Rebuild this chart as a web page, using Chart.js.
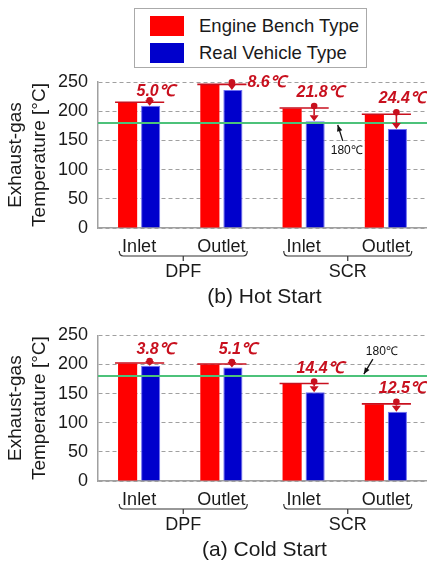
<!DOCTYPE html>
<html><head><meta charset="utf-8">
<script src="https://cdn.jsdelivr.net/npm/chart.js@4"></script>
<style>
html,body{margin:0;padding:0;background:#fff;width:427px;height:562px;overflow:hidden;font-family:"Liberation Sans",Arial,sans-serif;}
#legend{position:absolute;left:134px;top:8px;width:233px;height:60px;border:1px solid #aaa;box-sizing:border-box;}
.item{position:absolute;left:15px;width:215px;height:20px;font-size:18.5px;color:#1a1a1a;}
.sw{position:absolute;left:0;top:0;width:34px;height:20px;}
.lbl{position:absolute;left:49px;top:-2px;white-space:nowrap;line-height:24px;}
canvas{position:absolute;left:0;}
</style></head><body>
<div id="legend"></div>
<canvas id="hot" width="427" height="240" style="top:70px"></canvas>
<canvas id="cold" width="427" height="242" style="top:320px"></canvas>
<script>
// ---- data ----
const categories = ['Inlet', 'Outlet', 'Inlet', 'Outlet'];
const groups = ['DPF', 'SCR'];
const seriesNames = ['Engine Bench Type', 'Real Vehicle Type'];
const hotBench = [214.5, 245.0, 204.5, 194.0];
const hotReal = [209.5, 236.4, 182.7, 169.6];
const hotDiff = ['5.0', '8.6', '21.8', '24.4'];
const coldBench = [201.5, 200.0, 166.5, 131.5];
const coldReal = [197.7, 194.9, 152.1, 119.0];
const coldDiff = ['3.8', '5.1', '14.4', '12.5'];
const yTicks = [0, 50, 100, 150, 200, 250];
const threshold = 180;
const thresholdLabel = '180\u2103';
const yTitle = ['Exhaust-gas', 'Temperature [\u00b0C]'];
const hotCaption = '(b) Hot Start';
const coldCaption = '(a) Cold Start';

// ---- styles ----
const RED = '#ff0000', BLUE = '#0000cc', ANN = '#c8101e', GREEN = '#4cc27a', AXIS = '#a0a0a0', TXT = '#1a1a1a';
const FONT = '"Liberation Sans", Arial, sans-serif';

// legend
const leg = document.getElementById('legend');
[RED, BLUE].forEach((c, i) => {
  const it = document.createElement('div');
  it.className = 'item'; it.style.top = (7 + i * 27) + 'px';
  it.innerHTML = '<div class="sw" style="background:' + c + '"></div><div class="lbl">' + seriesNames[i] + '</div>';
  leg.appendChild(it);
});

function annPlugin(diffs, place, thr, caption) {
  return {
    id: 'ann',
    afterDatasetsDraw(chart) {
      const ctx = chart.ctx, ca = chart.chartArea, ys = chart.scales.y;
      const m0 = chart.getDatasetMeta(0), m1 = chart.getDatasetMeta(1);
      const ty = ys.getPixelForValue(threshold);
      ctx.save();
      ctx.strokeStyle = GREEN; ctx.lineWidth = 2;
      ctx.beginPath(); ctx.moveTo(ca.left, ty); ctx.lineTo(ca.right, ty); ctx.stroke();
      // threshold label with arrow
      ctx.fillStyle = '#111'; ctx.strokeStyle = '#111'; ctx.lineWidth = 1.3;
      ctx.font = '12px ' + FONT; ctx.textAlign = 'center'; ctx.textBaseline = 'middle';
      const tx = thr.tx(chart), tyl = ty + thr.dy;
      ctx.fillText(thresholdLabel, tx, tyl);
      const ax0 = tx + thr.a0[0], ay0 = tyl + thr.a0[1], ax1 = tx + thr.a1[0], ay1 = ty + thr.a1[1];
      ctx.beginPath(); ctx.moveTo(ax0, ay0); ctx.lineTo(ax1, ay1); ctx.stroke();
      const ang = Math.atan2(ay1 - ay0, ax1 - ax0);
      ctx.beginPath(); ctx.moveTo(ax1, ay1);
      ctx.lineTo(ax1 - 7 * Math.cos(ang - 0.4), ay1 - 7 * Math.sin(ang - 0.4));
      ctx.lineTo(ax1 - 7 * Math.cos(ang + 0.4), ay1 - 7 * Math.sin(ang + 0.4));
      ctx.closePath(); ctx.fill();
      // diff annotations
      for (let i = 0; i < m0.data.length; i++) {
        const r = m0.data[i], b = m1.data[i];
        const ly = r.y - 0.5, x1 = r.x - r.width / 2 - 3, x2 = b.x + b.width / 2 + 4;
        ctx.strokeStyle = ANN; ctx.fillStyle = ANN; ctx.lineWidth = 1.6;
        ctx.beginPath(); ctx.moveTo(x1, ly); ctx.lineTo(x2, ly); ctx.stroke();
        const dx = b.x - 1, dy = ly - 2;
        const dist = b.y - dy;
        const hh = Math.min(6, Math.max(3, dist));
        if (dist > hh) { ctx.beginPath(); ctx.moveTo(dx, dy); ctx.lineTo(dx, b.y - hh); ctx.stroke(); }
        ctx.beginPath(); ctx.moveTo(dx - 4.5, b.y - hh); ctx.lineTo(dx + 4.5, b.y - hh); ctx.lineTo(dx, b.y); ctx.closePath(); ctx.fill();
        ctx.beginPath(); ctx.arc(dx, dy, 3.3, 0, Math.PI * 2); ctx.fill();
        ctx.font = 'italic bold 16px ' + FONT; ctx.textBaseline = 'middle';
        const p = place[i];
        if (p.side === 'right') { ctx.textAlign = 'left'; ctx.fillText(diffs[i] + '\u2103', x2 + 1, ly + p.dy); }
        else { ctx.textAlign = 'center'; ctx.fillText(diffs[i] + '\u2103', b.x + 5, ly + p.dy); }
      }
      ctx.restore();
    },
    afterDraw(chart) {
      const ctx = chart.ctx, ca = chart.chartArea, xs = chart.scales.x;
      const base = ca.bottom;
      ctx.save();
      ctx.strokeStyle = '#333'; ctx.lineWidth = 1.2; ctx.fillStyle = TXT;
      groups.forEach((g, gi) => {
        const c0 = xs.getPixelForValue(gi * 2), c1 = xs.getPixelForValue(gi * 2 + 1);
        const cx = (c0 + c1) / 2 + 3, half = 64, by = base + 28;
        ctx.beginPath();
        ctx.moveTo(cx - half, by - 5); ctx.quadraticCurveTo(cx - half, by, cx - half + 4, by);
        ctx.lineTo(cx + half - 4, by); ctx.quadraticCurveTo(cx + half, by, cx + half, by - 5);
        ctx.moveTo(cx, by); ctx.lineTo(cx, by + 5);
        ctx.stroke();
        ctx.font = '18px ' + FONT; ctx.textAlign = 'center'; ctx.textBaseline = 'middle';
        ctx.fillText(g, cx, base + 44);
      });
      ctx.font = '21px ' + FONT; ctx.textAlign = 'center'; ctx.textBaseline = 'middle';
      ctx.fillText(caption, (ca.left + ca.right) / 2 + 2, base + 69);
      ctx.restore();
    }
  };
}

function makeChart(id, bench, real, diffs, place, thr, caption, padTop, xHeight) {
  return new Chart(document.getElementById(id), {
    type: 'bar',
    data: {
      labels: categories,
      datasets: [
        { label: seriesNames[0], data: bench, backgroundColor: RED, borderColor: RED, borderWidth: 0 },
        { label: seriesNames[1], data: real, backgroundColor: BLUE, borderColor: '#6f6ff0', borderWidth: 1 }
      ]
    },
    options: {
      responsive: false, animation: false, devicePixelRatio: 1,
      layout: { padding: { top: padTop, left: 0, right: 0, bottom: 0 } },
      datasets: { bar: { barPercentage: 0.83, categoryPercentage: 0.56 } },
      plugins: { legend: { display: false }, tooltip: { enabled: false }, title: { display: false } },
      scales: {
        x: {
          grid: { display: false, drawTicks: false },
          border: { display: true, color: AXIS, width: 1.5 },
          ticks: { color: TXT, font: { size: 18, family: FONT }, padding: 8, maxRotation: 0 },
          afterFit(s) { s.height = xHeight; s.paddingLeft = 0; s.paddingRight = 0; }
        },
        y: {
          min: 0, max: 250,
          afterBuildTicks(s) { s.ticks = yTicks.map(v => ({ value: v })); },
          grid: { color: AXIS, lineWidth: 1, drawTicks: false },
          border: { display: true, color: AXIS, width: 1.5, dash: [4, 3] },
          ticks: { color: TXT, font: { size: 18, family: FONT }, padding: 10 },
          title: { display: true, text: yTitle, color: TXT, font: { size: 19, family: FONT, lineHeight: 1.26 }, padding: { top: 4, bottom: 0 } },
          afterFit(s) { s.width = 98; s.paddingTop = 0; s.paddingBottom = 0; }
        }
      }
    },
    plugins: [annPlugin(diffs, place, thr, caption)]
  });
}

makeChart('hot', hotBench, hotReal, hotDiff,
  [{ side: 'above', dy: -11 }, { side: 'right', dy: -2 }, { side: 'above', dy: -15 }, { side: 'above', dy: -16 }],
  { tx: c => (c.scales.x.getPixelForValue(2) + c.scales.x.getPixelForValue(3)) / 2 + 2, dy: 28, a0: [-4, -10], a1: [-9, 2] },
  hotCaption, 12, 82);
makeChart('cold', coldBench, coldReal, coldDiff,
  [{ side: 'above', dy: -13 }, { side: 'above', dy: -14.5 }, { side: 'above', dy: -14.5 }, { side: 'above', dy: -15.5 }],
  { tx: c => c.scales.x.getPixelForValue(3) - 4, dy: -24, a0: [-9, 7], a1: [-18, -2] },
  coldCaption, 15.3, 81);
</script>
</body></html>
